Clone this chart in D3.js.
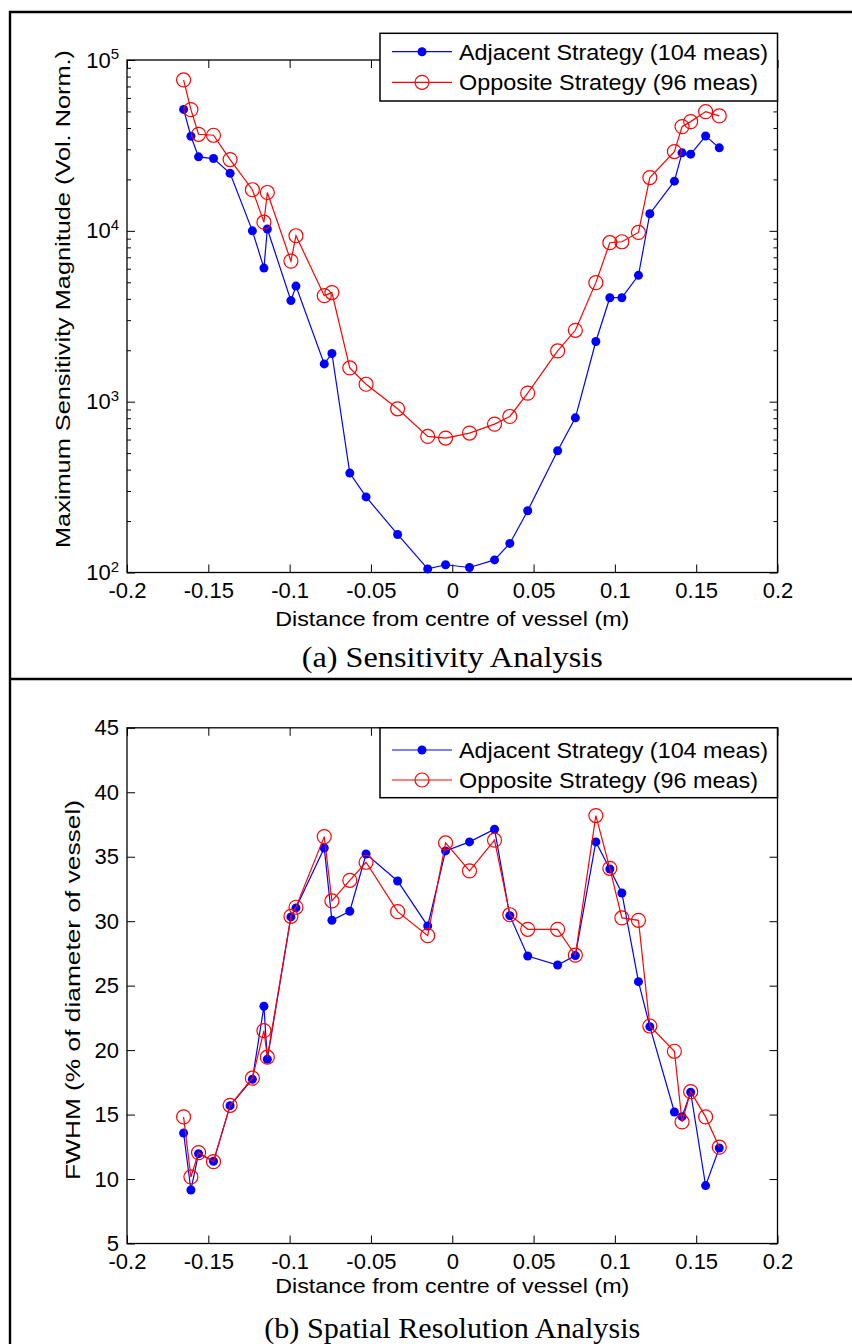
<!DOCTYPE html>
<html><head><meta charset="utf-8">
<script src="https://cdn.jsdelivr.net/npm/d3@7"></script>
<style>
body{margin:0;background:#fff}
text{font-family:"Liberation Sans",Arial,Helvetica,sans-serif;fill:#000}
.cap{font-family:"Liberation Serif","Times New Roman",serif}
</style>
</head><body>
<svg id="chart" width="852" height="1344"></svg>
<script>
// ---------- data ----------
const distance = [-0.1652,-0.1607,-0.1560,-0.1468,-0.1366,-0.1229,-0.1158,-0.1137,-0.0992,-0.0961,-0.0787,-0.0740,-0.0630,-0.0530,-0.0336,-0.0151,-0.0041,0.0106,0.0260,0.0354,0.0464,0.0648,0.0757,0.0883,0.0969,0.1043,0.1145,0.1215,0.1366,0.1413,0.1466,0.1558,0.1642];
const sensAdjacent = [51400,35800,27100,26500,21700,10000,6050,10250,3905,4750,1663,1914,382,277,167,105,111,107,118.5,148,230,516,804,2250,4060,4060,5490,12590,19530,28600,28100,35900,30600];
const sensOpposite = [76400,51230,36740,36260,26140,17400,11240,16770,6650,9360,4175,4350,1576,1265,908,626,612,655,739,819,1122,1982,2617,4975,8520,8630,9790,20510,29100,40740,43580,49870,47080];
const fwhmAdjacent = [13.57,9.15,11.97,11.38,15.69,17.74,23.4,19.29,30.33,31.03,35.68,30.07,30.77,35.21,33.12,29.63,35.45,36.15,37.13,30.43,27.3,26.6,27.33,36.15,34.05,32.19,25.31,21.82,15.2,14.84,16.73,9.49,12.41];
const fwhmOpposite = [14.82,10.16,12.05,11.35,15.72,17.82,21.51,19.45,30.38,31.08,36.56,31.57,33.17,34.57,30.74,28.88,36.07,33.9,36.28,30.5,29.37,29.37,27.36,38.19,34.1,30.25,30.07,21.87,19.91,14.43,16.78,14.82,12.47];

const xTicks = [-0.2,-0.15,-0.1,-0.05,0,0.05,0.1,0.15,0.2];
const xTickLabels = ["-0.2","-0.15","-0.1","-0.05","0","0.05","0.1","0.15","0.2"];
const sensTicks = [1e2,1e3,1e4,1e5];
const sensTickExps = ["2","3","4","5"];
const fwhmTicks = [5,10,15,20,25,30,35,40,45];
const fwhmTickLabels = ["5","10","15","20","25","30","35","40","45"];
const seriesNames = ["Adjacent Strategy (104 meas)","Opposite Strategy (96 meas)"];
const seriesColors = ["#0000ff","#ff0000"];
const xLabel = "Distance from centre of vessel (m)";
const sensLabel = "Maximum Sensitivity Magnitude (Vol. Norm.)";
const fwhmLabel = "FWHM (% of diameter of vessel)";
const captions = ["(a) Sensitivity Analysis","(b) Spatial Resolution Analysis"];

// ---------- drawing ----------
const svg = d3.select("#chart");
const L = 127, R = 777.5;

// outer frame
svg.append("path").attr("d","M10,1350V12H860").attr("fill","none").attr("stroke","#000").attr("stroke-width",2.4);
svg.append("line").attr("x1",10).attr("x2",860).attr("y1",679).attr("y2",679).attr("stroke","#000").attr("stroke-width",2.4);

function panel(cfg){
  const x = d3.scaleLinear().domain([-0.2,0.2]).range([L,R]);
  const y = cfg.y;
  const T = cfg.top, B = cfg.bottom;
  const g = svg.append("g");

  // axes (inward ticks)
  const xb = g.append("g").attr("transform",`translate(0,${B})`)
    .call(d3.axisBottom(x).tickValues(xTicks).tickSize(-8).tickPadding(9.4)
      .tickFormat((d,i)=>xTickLabels[i]));
  const xt = g.append("g").attr("transform",`translate(0,${T})`)
    .call(d3.axisTop(x).tickValues(xTicks).tickSize(-8).tickFormat(""));
  const yl = g.append("g").attr("transform",`translate(${L},0)`)
    .call(d3.axisLeft(y).tickValues(cfg.ticks).tickSize(-8).tickPadding(8)
      .tickFormat((d,i)=>cfg.tickLabels ? cfg.tickLabels[i] : ""));
  const yr = g.append("g").attr("transform",`translate(${R},0)`)
    .call(d3.axisRight(y).tickValues(cfg.ticks).tickSize(-8).tickFormat(""));
  if (cfg.minor){
    g.append("g").attr("transform",`translate(${L},0)`).call(d3.axisLeft(y).tickValues(cfg.minor).tickSize(-4).tickFormat(""));
    g.append("g").attr("transform",`translate(${R},0)`).call(d3.axisRight(y).tickValues(cfg.minor).tickSize(-4).tickFormat(""));
  }
  g.selectAll(".domain").remove();
  g.selectAll(".tick line").attr("stroke","#000").attr("stroke-width",1);
  g.selectAll(".tick text").attr("font-size",22).attr("fill","#000")
    .style("font-family",'"Liberation Sans",Arial,sans-serif');
  if (cfg.exps){
    yl.selectAll(".tick text").each(function(d,i){
      const t = d3.select(this); t.text(null);
      t.append("tspan").text("10");
      t.append("tspan").attr("dy","-0.55em").attr("font-size",15).text(cfg.exps[i]);
    });
  }
  // box
  g.append("rect").attr("x",L).attr("y",T).attr("width",R-L).attr("height",B-T)
    .attr("fill","none").attr("stroke","#000").attr("stroke-width",1.3);

  // series
  const sets = [cfg.a, cfg.b];
  sets.forEach((vals,si)=>{
    const pts = distance.map((d,i)=>[d, vals[i]]);
    g.append("path").datum(pts)
      .attr("d", d3.line().x(d=>x(d[0])).y(d=>y(d[1])))
      .attr("fill","none").attr("stroke",seriesColors[si]).attr("stroke-width",1.2);
    const m = g.append("g").selectAll("circle").data(pts).join("circle")
      .attr("cx",d=>x(d[0])).attr("cy",d=>y(d[1]));
    if (si===0) m.attr("r",4.5).attr("fill",seriesColors[0]);
    else m.attr("r",7).attr("fill","none").attr("stroke",seriesColors[1]).attr("stroke-width",1.2);
  });

  // legend
  const lg = g.append("g");
  lg.append("rect").attr("x",380).attr("y",cfg.legTop).attr("width",R-380).attr("height",cfg.legH)
    .attr("fill","#fff").attr("stroke","#000").attr("stroke-width",1.5);
  seriesNames.forEach((name,si)=>{
    const yy = cfg.legRows[si];
    lg.append("line").attr("x1",392).attr("x2",452).attr("y1",yy).attr("y2",yy)
      .attr("stroke",seriesColors[si]).attr("stroke-width",1.2);
    if (si===0) lg.append("circle").attr("cx",422).attr("cy",yy).attr("r",4.5).attr("fill",seriesColors[0]);
    else lg.append("circle").attr("cx",422).attr("cy",yy).attr("r",7).attr("fill","none").attr("stroke",seriesColors[1]).attr("stroke-width",1.2);
    lg.append("text").attr("x",459).attr("y",yy).attr("dy","0.36em").attr("font-size",22)
      .attr("textLength", si===0?309:299).attr("lengthAdjust","spacingAndGlyphs").text(name);
  });

  // labels
  g.append("text").attr("x",(L+R)/2).attr("y",cfg.xlabY).attr("text-anchor","middle")
    .attr("font-size",21).attr("textLength",354).attr("lengthAdjust","spacingAndGlyphs").text(xLabel);
  g.append("text").attr("transform",`translate(${cfg.ylab[0]},${cfg.ylab[1]}) rotate(-90)`)
    .attr("text-anchor","middle").attr("dy","0.36em").attr("font-size",21)
    .attr("textLength",cfg.ylabLen).attr("lengthAdjust","spacingAndGlyphs").text(cfg.ylabel);
  g.append("text").attr("class","cap").attr("x",(L+R)/2).attr("y",cfg.capY).attr("text-anchor","middle")
    .attr("font-size",29).attr("textLength",cfg.capLen).attr("lengthAdjust","spacingAndGlyphs").text(cfg.caption);
}

const minorSens = [];
[100,1000,10000].forEach(b=>{ for(let k=2;k<=9;k++) minorSens.push(b*k); });

panel({
  y: d3.scaleLog().domain([1e2,1e5]).range([572.5,60]),
  top:60, bottom:572.5, ticks:sensTicks, exps:sensTickExps, tickLabels:sensTickExps, minor:minorSens,
  a:sensAdjacent, b:sensOpposite,
  legTop:33.3, legH:67.7, legRows:[51.7,82.3],
  xlabY:626, ylab:[62,299], ylabLen:498, ylabel:sensLabel,
  capY:667, capLen:301, caption:captions[0]
});
panel({
  y: d3.scaleLinear().domain([5,45]).range([1243.5,727.8]),
  top:727.8, bottom:1243.5, ticks:fwhmTicks, tickLabels:fwhmTickLabels,
  a:fwhmAdjacent, b:fwhmOpposite,
  legTop:727.8, legH:69.9, legRows:[750,780],
  xlabY:1293, ylab:[72,990], ylabLen:380, ylabel:fwhmLabel,
  capY:1338, capLen:376, caption:captions[1]
});
</script>
</body></html>
